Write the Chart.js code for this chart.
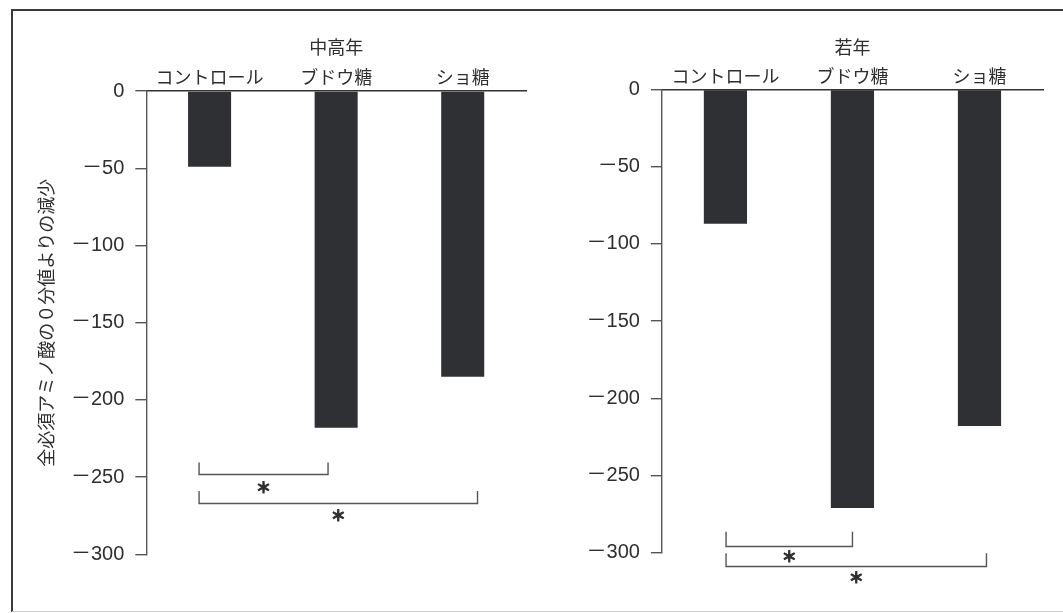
<!DOCTYPE html>
<html>
<head>
<meta charset="utf-8">
<script src="https://cdn.jsdelivr.net/npm/chart.js@4/dist/chart.umd.min.js"></script>
<style>
  html, body { margin: 0; padding: 0; background: #fff; }
  #wrap { position: relative; width: 1063px; height: 613px; overflow: hidden; background: #fff; }
  #frame {
    position: absolute; left: 11px; top: 9px; width: 1100px; height: 600px;
    border-left: 2px solid #3a3a3a; border-top: 2px solid #3a3a3a; border-bottom: 1px solid #d0d0d0;
  }
  canvas { position: absolute; top: 0; }
  #cLeft { left: 0; }
  #cRight { left: 530px; }
</style>
</head>
<body>
<div id="wrap">
  <div id="frame"></div>
  <canvas id="cLeft" width="530" height="613"></canvas>
  <canvas id="cRight" width="533" height="613"></canvas>
</div>
<script>
// Categories and values (decrease from the 0-minute value)
const categories = ['コントロール', 'ブドウ糖', 'ショ糖'];
const middleAgedValues = [-49, -218, -185];
const youngValues = [-87, -271, -218];
const groupTitles = ['中高年', '若年'];
const yAxisTitle = '全必須アミノ酸の０分値よりの減少';
const yTickValues = [0, -50, -100, -150, -200, -250, -300];
// Significant comparisons: pairs of category indices
const comparisons = [[0, 1], [0, 2]];
const sigMark = '＊';

const JP_FONT = '"Noto Sans CJK JP", "Noto Sans", sans-serif';
const NUM_FONT = '"Liberation Sans", "Noto Sans CJK JP", sans-serif';
const INK = '#2e2e2e';

// Negative ticks use a wide full-width dash
const fmtTick = v => (v === 0 ? '0' : '\uFF0D' + Math.abs(v));

// Draws significance brackets with an asterisk under each one
const sigBrackets = {
  id: 'sigBrackets',
  afterDatasetsDraw(chart, args, opts) {
    if (!opts.items) return;
    const { ctx, scales: { x, y } } = chart;
    ctx.save();
    ctx.strokeStyle = '#555';
    ctx.lineWidth = 1.4;
    ctx.font = 'bold 15px ' + JP_FONT;
    ctx.textAlign = 'center';
    ctx.textBaseline = 'middle';
    opts.items.forEach((it, i) => {
      const [a, b] = comparisons[i];
      const x1 = x.getPixelForValue(a + it.dx[0]);
      const x2 = x.getPixelForValue(b + it.dx[1]);
      const yl = Math.round(y.getPixelForValue(it.level)) + 0.5;
      const yt = y.getPixelForValue(it.level + it.rise);
      ctx.strokeStyle = '#555';
      ctx.lineWidth = 1.4;
      ctx.beginPath();
      ctx.moveTo(x1, yt);
      ctx.lineTo(x1, yl);
      ctx.lineTo(x2, yl);
      ctx.lineTo(x2, yt);
      ctx.stroke();
      // asterisk, thickened with a thin outline
      const sx = (x1 + x2) / 2, sy = y.getPixelForValue(it.star);
      ctx.fillStyle = INK;
      ctx.strokeStyle = INK;
      ctx.lineWidth = 1;
      ctx.fillText(sigMark, sx, sy);
      ctx.strokeText(sigMark, sx, sy);
    });
    ctx.restore();
  }
};

function makeChart(canvasId, title, values, cfg) {
  return new Chart(document.getElementById(canvasId), {
    type: 'bar',
    data: {
      labels: categories,
      datasets: [{
        data: values,
        backgroundColor: '#2f3034',
        borderWidth: 0,
        categoryPercentage: 1,
        barPercentage: 0.34
      }]
    },
    plugins: [sigBrackets],
    options: {
      responsive: false,
      animation: false,
      devicePixelRatio: 1,
      layout: { padding: cfg.padding },
      plugins: {
        legend: { display: false },
        tooltip: { enabled: false },
        sigBrackets: { items: cfg.brackets }
      },
      scales: {
        x: {
          position: 'top',
          grid: { display: false, drawTicks: false },
          border: { display: true, color: '#333', width: 1.6 },
          ticks: { color: INK, padding: 3, font: { family: JP_FONT, size: 18 } },
          title: {
            display: true, text: title, color: INK,
            font: { family: JP_FONT, size: 18 },
            padding: { top: cfg.titlePad, bottom: 0 }
          },
          afterFit: s => { s.height = 71; }
        },
        y: {
          min: -300, max: 0,
          afterBuildTicks: s => { s.ticks = yTickValues.map(v => ({ value: v })); },
          grid: { display: true, drawOnChartArea: false, drawTicks: true, tickLength: 11, color: '#555', lineWidth: 1.4 },
          border: { display: true, color: '#555', width: 1.4 },
          ticks: {
            color: INK, padding: 11,
            font: { family: NUM_FONT, size: 20 },
            callback: v => fmtTick(v)
          },
          title: cfg.yTitle ? {
            display: true, text: cfg.yTitle, color: INK,
            font: { family: JP_FONT, size: 18 },
            padding: { top: 35.5, bottom: 0 }
          } : { display: false },
          afterFit: s => { s.width = cfg.yWidth; }
        }
      }
    }
  });
}

makeChart('cLeft', groupTitles[0], middleAgedValues, {
  padding: { left: 0, top: 20, right: 4, bottom: 58.7 },
  yWidth: 146.3,
  titlePad: 16.2,
  yTitle: yAxisTitle,
  brackets: [
    { dx: [-0.083, -0.064], level: -248, rise: 7.5, star: -256.5 },
    { dx: [-0.083, 0.117], level: -267, rise: 8, star: -274.5 }
  ]
});

makeChart('cRight', groupTitles[1], youngValues, {
  padding: { left: 0, top: 18.5, right: 20, bottom: 60.3 },
  yWidth: 131.9,
  titlePad: 17.7,
  yTitle: null,
  brackets: [
    { dx: [0.005, 0], level: -295.5, rise: 9, star: -302.5 },
    { dx: [0.005, 0.055], level: -308.4, rise: 8, star: -316 }
  ]
});
</script>
</body>
</html>
